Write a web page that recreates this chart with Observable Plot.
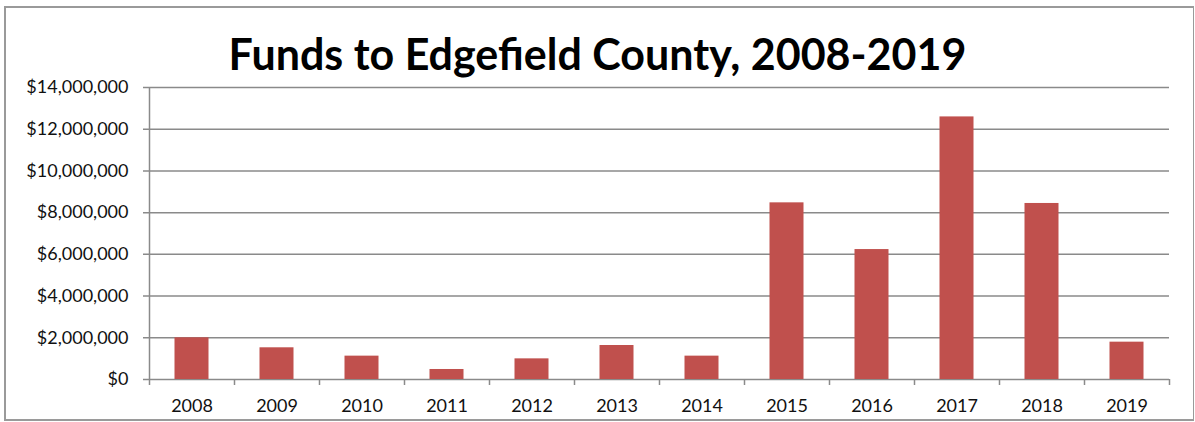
<!DOCTYPE html>
<html>
<head>
<meta charset="utf-8">
<script src="https://cdn.jsdelivr.net/npm/d3@7"></script>
<script src="https://cdn.jsdelivr.net/npm/@observablehq/plot@0.6"></script>
<style>
  html, body { margin: 0; padding: 0; background: #fff; }
  body { width: 1195px; height: 422px; position: relative; overflow: hidden; font-family: Lato, "Open Sans", sans-serif; }
  #frame { position: absolute; left: 4px; top: 6px; width: 1190px; height: 415px; box-sizing: border-box; border: 2px solid #9a9a9a; border-right-width: 1.5px; }
  #title { position: absolute; left: 0; top: 29px; width: 1195px; text-align: center; font-weight: 700; font-size: 43px; line-height: 50px; color: #000; }
  #chart { position: absolute; left: 0; top: 75px; }
</style>
</head>
<body>
<div id="frame"></div>
<div id="title">Funds to Edgefield County, 2008-2019</div>
<div id="chart"></div>
<script>
const years = ["2008","2009","2010","2011","2012","2013","2014","2015","2016","2017","2018","2019"];
const funds = [2000000, 1520000, 1120000, 480000, 990000, 1630000, 1120000, 8470000, 6230000, 12590000, 8440000, 1790000];
const yTicks = [0, 2000000, 4000000, 6000000, 8000000, 10000000, 12000000, 14000000];

const data = years.map((y, i) => ({year: y, index: i, value: funds[i]}));
const money = v => "$" + d3.format(",")(v);
const gray = "#8a8a8a";

const chart = Plot.plot({
  width: 1195,
  height: 345,
  marginLeft: 149,
  marginRight: 26,
  marginTop: 12,
  marginBottom: 41,
  style: {fontFamily: "Lato, 'Open Sans', sans-serif", fontSize: "18px", color: "#111", background: "transparent"},
  x: {domain: [0, years.length], axis: null},
  y: {domain: [0, 14000000], axis: null},
  marks: [
    Plot.ruleY(yTicks, {y: d => d, x1: 0, x2: years.length, insetLeft: -6, stroke: gray, strokeWidth: 1.5}),
    Plot.ruleX([0], {y1: 0, y2: 14000000, stroke: gray, strokeWidth: 1.5}),
    Plot.axisX({ticks: d3.range(years.length + 1), tickSize: 6, tickFormat: () => "", label: null, stroke: gray, strokeWidth: 1.5, strokeOpacity: 1}),
    Plot.axisX({ticks: data.map(d => d.index + 0.5), tickSize: 0, tickPadding: 20, label: null, tickFormat: v => years[Math.floor(v)], fill: "#111", fontSize: 18}),
    Plot.axisY({ticks: yTicks, tickSize: 0, tickPadding: 21, label: null, tickFormat: money, fill: "#111", fontSize: 18}),
    Plot.rectY(data, {x1: d => d.index + 0.3, x2: d => d.index + 0.7, y: "value", fill: "#C0504D"})
  ]
});
document.getElementById("chart").appendChild(chart);
</script>
</body>
</html>
